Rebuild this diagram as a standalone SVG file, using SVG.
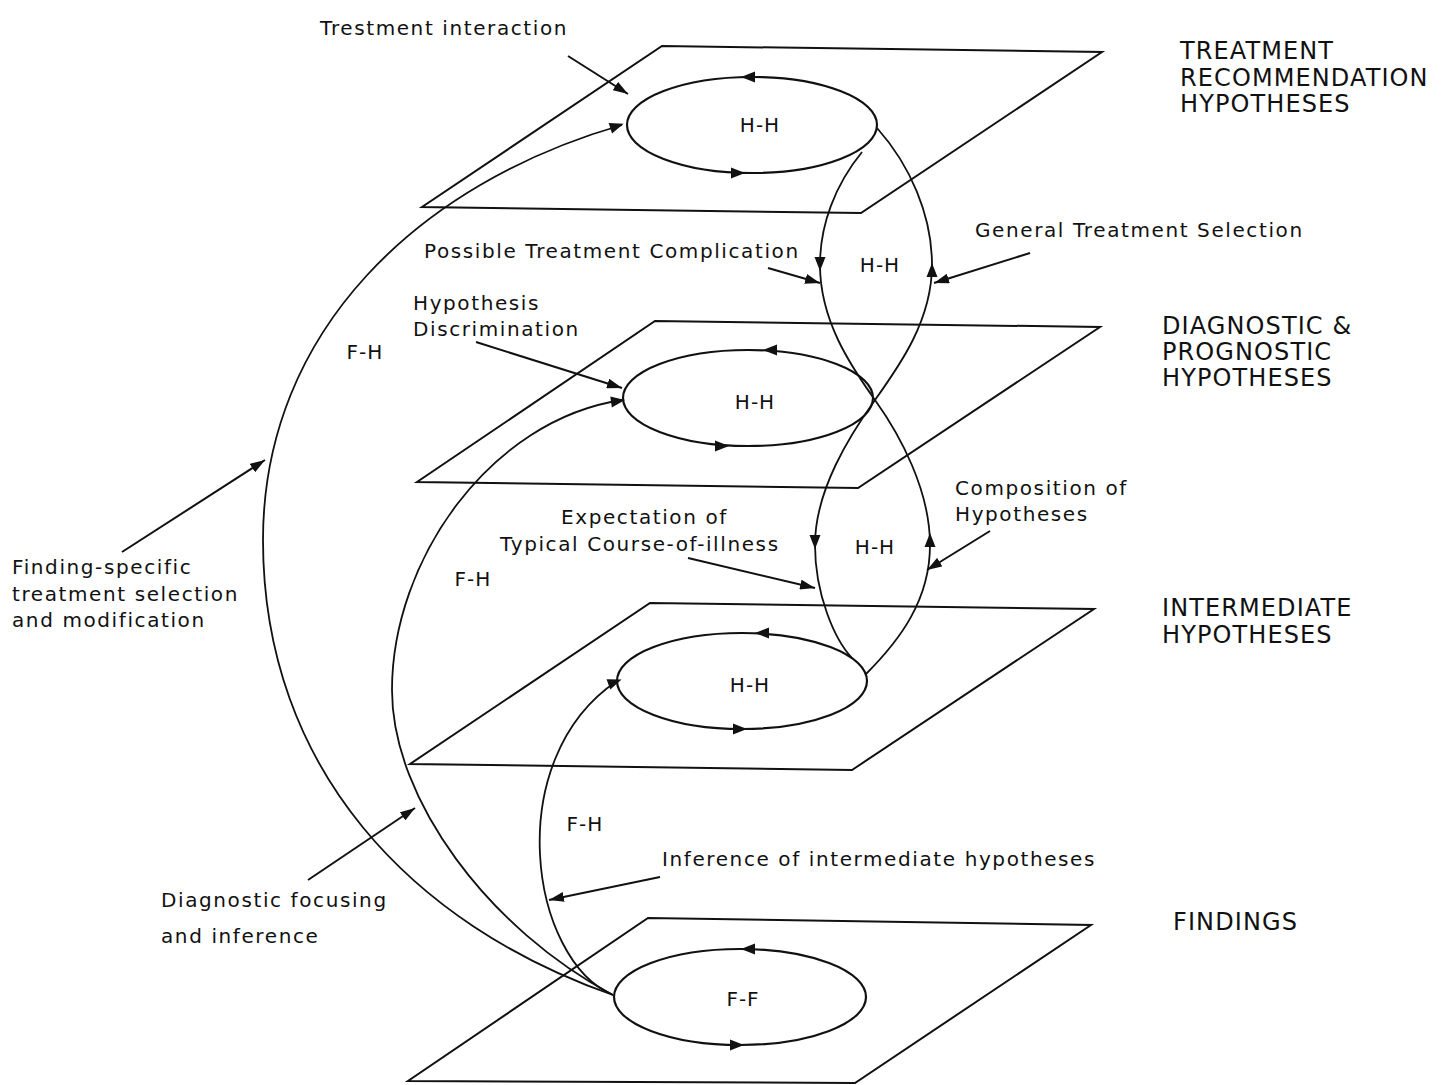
<svg xmlns="http://www.w3.org/2000/svg" xmlns:xlink="http://www.w3.org/1999/xlink" width="1448" height="1085" viewBox="0 0 1448 1085">
<style>
.pl{fill:none;stroke:#111;stroke-width:2}
.el{fill:none;stroke:#111;stroke-width:2.2}
.cv{fill:none;stroke:#111;stroke-width:1.8}
.pt{fill:none;stroke:#111;stroke-width:2;marker-end:url(#arr)}
.ah{fill:#111}
text{font-family:"DejaVu Sans","Liberation Sans",sans-serif;fill:#111}
.lb{font-size:20px;letter-spacing:1.6px}
.nd{font-size:20px;text-anchor:middle;letter-spacing:1px}
.ti{font-size:24px;letter-spacing:1.1px}
</style>
<defs>
<marker id="arr" viewBox="0 0 15 10" refX="15" refY="5" markerWidth="15" markerHeight="10" markerUnits="userSpaceOnUse" orient="auto">
<path d="M0,0 L15,5 L0,10 Z" fill="#111"/>
</marker>
<path id="ah" d="M7,0 L-7,-5.5 L-7,5.5 Z"/>
</defs>
<rect width="1448" height="1085" fill="#fff"/>

<g id="plane-treatment">
<polygon class="pl" points="662,46 1102,52 861,213 422,207"/>
<text class="ti" x="1180" y="59">TREATMENT</text>
<text class="ti" x="1180" y="86">RECOMMENDATION</text>
<text class="ti" x="1180" y="112">HYPOTHESES</text>
</g>
<g id="plane-diagnostic">
<polygon class="pl" points="655,321 1100,327 858,488 417,482"/>
<text class="ti" x="1162" y="334">DIAGNOSTIC &amp;</text>
<text class="ti" x="1162" y="360">PROGNOSTIC</text>
<text class="ti" x="1162" y="386">HYPOTHESES</text>
</g>
<g id="plane-intermediate">
<polygon class="pl" points="650,603 1094,609 852,770 410,764"/>
<text class="ti" x="1162" y="616">INTERMEDIATE</text>
<text class="ti" x="1162" y="643">HYPOTHESES</text>
</g>
<g id="plane-findings">
<polygon class="pl" points="648,918 1091,925 855,1083 408,1081"/>
<text class="ti" x="1173" y="930">FINDINGS</text>
</g>

<g id="node-hh-treatment">
<ellipse class="el" cx="752" cy="125" rx="125" ry="48"/>
<use href="#ah" class="ah" transform="translate(748,77) rotate(180)"/>
<use href="#ah" class="ah" transform="translate(738,173) rotate(0)"/>
<text class="nd" x="760" y="132">H-H</text>
</g>
<g id="node-hh-diagnostic">
<ellipse class="el" cx="748" cy="398" rx="125" ry="48"/>
<use href="#ah" class="ah" transform="translate(770,350) rotate(180)"/>
<use href="#ah" class="ah" transform="translate(722,446) rotate(0)"/>
<text class="nd" x="755" y="409">H-H</text>
</g>
<g id="node-hh-intermediate">
<ellipse class="el" cx="742" cy="681" rx="125" ry="48"/>
<use href="#ah" class="ah" transform="translate(762,633) rotate(180)"/>
<use href="#ah" class="ah" transform="translate(740,729) rotate(0)"/>
<text class="nd" x="750" y="692">H-H</text>
</g>
<g id="node-ff-findings">
<ellipse class="el" cx="740" cy="997" rx="126" ry="48"/>
<use href="#ah" class="ah" transform="translate(748,949) rotate(180)"/>
<use href="#ah" class="ah" transform="translate(737,1045) rotate(0)"/>
<text class="nd" x="743" y="1006">F-F</text>
</g>

<g id="connectors">
<path class="cv" d="M613,995 C413,925 263,770 263,540 C263,330 420,183 622,125"/>
<use href="#ah" class="ah" transform="translate(617,126) rotate(-18)"/>
<path class="cv" d="M613,995 C490,930 392,800 392,690 C392,560 490,420 622,400"/>
<use href="#ah" class="ah" transform="translate(618,401) rotate(-8)"/>
<path class="cv" d="M613,995 C530,960 500,760 617,681"/>
<use href="#ah" class="ah" transform="translate(615,682) rotate(-20)"/>

<path class="cv" d="M877,128 C910,165 932,215 932,265 C932,320 900,365 875,400 C850,435 815,490 815,545 C815,595 835,640 852,658"/>
<path class="cv" d="M862,152 C835,185 820,225 820,265 C820,320 850,365 875,400 C900,435 930,490 930,545 C930,600 900,640 866,674"/>
<use href="#ah" class="ah" transform="translate(820,264) rotate(90)"/>
<use href="#ah" class="ah" transform="translate(932,270) rotate(-90)"/>
<use href="#ah" class="ah" transform="translate(815,542) rotate(90)"/>
<use href="#ah" class="ah" transform="translate(930,540) rotate(-90)"/>

<line class="pt" x1="568" y1="56" x2="628" y2="94"/>
<line class="pt" x1="768" y1="268" x2="820" y2="283"/>
<line class="pt" x1="1030" y1="253" x2="934" y2="283"/>
<line class="pt" x1="476" y1="342" x2="622" y2="388"/>
<line class="pt" x1="122" y1="552" x2="265" y2="460"/>
<line class="pt" x1="990" y1="531" x2="927" y2="570"/>
<line class="pt" x1="688" y1="558" x2="815" y2="588"/>
<line class="pt" x1="308" y1="880" x2="415" y2="808"/>
<line class="pt" x1="660" y1="877" x2="549" y2="900"/>
</g>

<g id="labels">
<text class="lb" x="320" y="35">Trestment interaction</text>
<text class="lb" x="975" y="237">General Treatment Selection</text>
<text class="lb" x="424" y="258">Possible Treatment Complication</text>
<text class="nd" x="880" y="272">H-H</text>
<text class="lb" x="413" y="310">Hypothesis</text>
<text class="lb" x="413" y="336">Discrimination</text>
<text class="nd" x="365" y="359">F-H</text>
<text class="lb" x="955" y="495">Composition of</text>
<text class="lb" x="955" y="521">Hypotheses</text>
<text class="lb" x="561" y="524">Expectation of</text>
<text class="lb" x="500" y="551">Typical Course-of-illness</text>
<text class="nd" x="875" y="554">H-H</text>
<text class="lb" x="12" y="574">Finding-specific</text>
<text class="lb" x="12" y="601">treatment selection</text>
<text class="lb" x="12" y="627">and modification</text>
<text class="nd" x="473" y="586">F-H</text>
<text class="nd" x="585" y="831">F-H</text>
<text class="lb" x="662" y="866">Inference of intermediate hypotheses</text>
<text class="lb" x="161" y="907">Diagnostic focusing</text>
<text class="lb" x="161" y="943">and inference</text>
</g>
</svg>
